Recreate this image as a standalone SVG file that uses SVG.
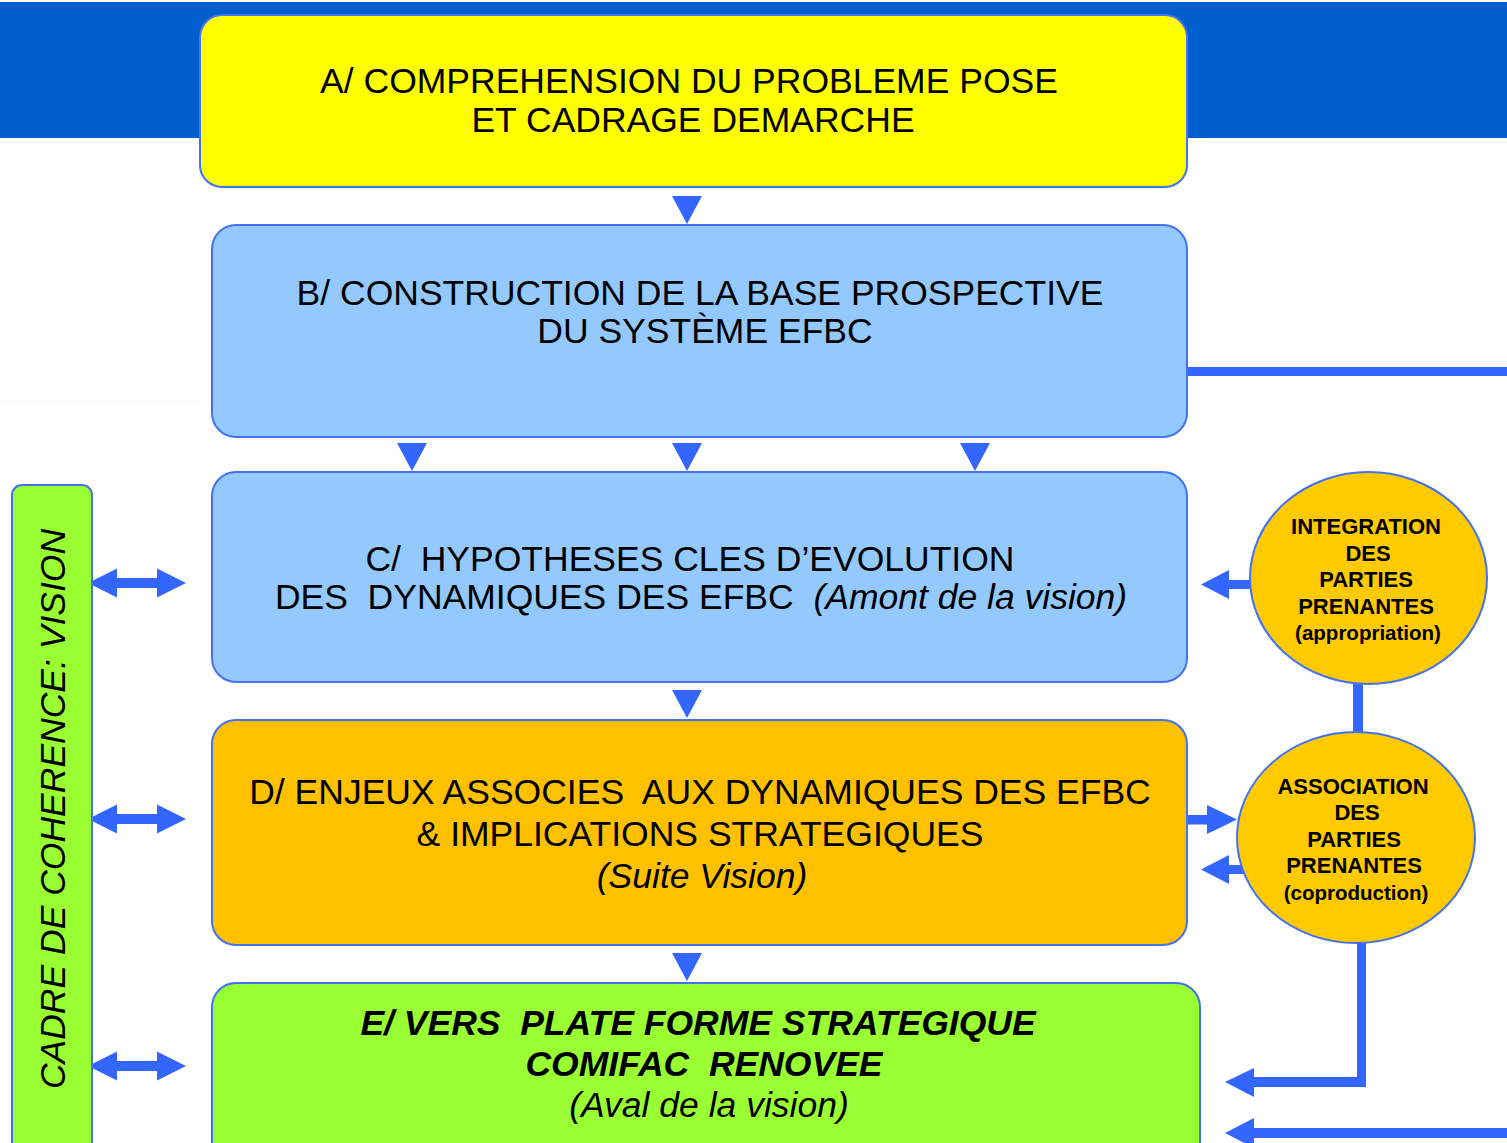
<svg xmlns="http://www.w3.org/2000/svg" width="1507" height="1143" viewBox="0 0 1507 1143">
<style>
  text { font-family: "Liberation Sans", Arial, sans-serif; fill: #000; }
  .box { stroke: #4472F0; stroke-width: 2; }
  .big { font-size: 35.5px; text-anchor: middle; }
  .it { font-style: italic; }
  .bi { font-style: italic; font-weight: bold; }
  .circ { font-size: 22px; font-weight: bold; text-anchor: middle; }
  .paren { font-size: 20.5px; }
  .arr { fill: #3366FF; }
</style>
<rect width="1507" height="1143" fill="#FFFFFF"/>
<rect x="0" y="2" width="1507" height="136" fill="#005ECE"/>
<line x1="0" y1="401" x2="200" y2="401" stroke="#F3F3EA" stroke-width="1"/>

<g id="connectors">
  <!-- down triangles -->
  <polygon class="arr" points="672,196 702,196 687,224"/>
  <polygon class="arr" points="397,443 427,443 412,471"/>
  <polygon class="arr" points="672,443 702,443 687,471"/>
  <polygon class="arr" points="960,443 990,443 975,471"/>
  <polygon class="arr" points="672,690 702,690 687,718"/>
  <polygon class="arr" points="672,953 702,953 687,981"/>
  <!-- left double arrows -->
  <polygon class="arr" points="88,583 117,568.5 117,578 157,578 157,568.5 186,583 157,597.5 157,588 117,588 117,597.5"/>
  <polygon class="arr" points="88,819 117,804.5 117,814 157,814 157,804.5 186,819 157,833.5 157,824 117,824 117,833.5"/>
  <polygon class="arr" points="88,1066 117,1051.5 117,1061 157,1061 157,1051.5 186,1066 157,1080.5 157,1071 117,1071 117,1080.5"/>
  <!-- line from B to right -->
  <rect class="arr" x="1187" y="367" width="320" height="9"/>
  <!-- circle1 to C -->
  <rect class="arr" x="1228" y="580" width="26" height="9"/>
  <polygon class="arr" points="1201,584.5 1229,570 1229,599"/>
  <!-- circle1 to circle2 -->
  <rect class="arr" x="1353" y="680" width="10" height="56"/>
  <!-- D to circle2 -->
  <rect class="arr" x="1187" y="815" width="21" height="9.5"/>
  <polygon class="arr" points="1207,805 1237,819.5 1207,834"/>
  <!-- circle2 to D -->
  <rect class="arr" x="1228" y="865" width="16" height="9"/>
  <polygon class="arr" points="1201,869.5 1229,855 1229,884"/>
  <!-- circle2 to E -->
  <rect class="arr" x="1357" y="940" width="9" height="147"/>
  <rect class="arr" x="1253" y="1077" width="113" height="10"/>
  <polygon class="arr" points="1225,1082 1254,1068 1254,1097"/>
  <!-- external to E -->
  <rect class="arr" x="1253" y="1128" width="254" height="10"/>
  <polygon class="arr" points="1225,1133 1254,1118 1254,1148"/>
</g>

<g id="nodeA">
  <rect class="box" x="200" y="15" width="987" height="172" rx="22" fill="#FFFF00"/>
  <text class="big" x="689" y="93">A/ COMPREHENSION DU PROBLEME POSE</text>
  <text class="big" x="693" y="132">ET CADRAGE DEMARCHE</text>
</g>

<g id="nodeB">
  <rect class="box" x="212" y="225" width="975" height="212" rx="24" fill="#94C9FF"/>
  <text class="big" x="700" y="305">B/ CONSTRUCTION DE LA BASE PROSPECTIVE</text>
  <text class="big" x="705" y="343">DU SYSTÈME EFBC</text>
</g>

<g id="nodeC">
  <rect class="box" x="212" y="472" width="975" height="210" rx="24" fill="#94C9FF"/>
  <text class="big" x="690" y="571" xml:space="preserve">C/  HYPOTHESES CLES D’EVOLUTION</text>
  <text class="big" x="701" y="609" xml:space="preserve">DES  DYNAMIQUES DES EFBC  <tspan class="it">(Amont de la vision)</tspan></text>
</g>

<g id="nodeD">
  <rect class="box" x="212" y="720" width="975" height="225" rx="24" fill="#FFC000"/>
  <text class="big" x="700" y="804" xml:space="preserve">D/ ENJEUX ASSOCIES  AUX DYNAMIQUES DES EFBC</text>
  <text class="big" x="700" y="846">&amp; IMPLICATIONS STRATEGIQUES</text>
  <text class="big it" x="702" y="888">(Suite Vision)</text>
</g>

<g id="nodeE">
  <rect class="box" x="212" y="983" width="988" height="190" rx="24" fill="#99FF33"/>
  <text class="big bi" x="698" y="1035" xml:space="preserve">E/ VERS  PLATE FORME STRATEGIQUE</text>
  <text class="big bi" x="704" y="1076" xml:space="preserve">COMIFAC  RENOVEE</text>
  <text class="big it" x="709" y="1117">(Aval de la vision)</text>
</g>

<g id="nodeVision">
  <rect class="box" x="12" y="485" width="80" height="690" rx="10" fill="#99FF33"/>
  <text class="big it" transform="translate(65,809) rotate(-90)" x="0" y="0">CADRE DE COHERENCE: VISION</text>
</g>

<g id="nodeIntegration">
  <ellipse class="box" cx="1368.5" cy="578" rx="118.5" ry="106" fill="#FFCB00"/>
  <text class="circ" x="1366" y="534">INTEGRATION</text>
  <text class="circ" x="1368" y="561">DES</text>
  <text class="circ" x="1366" y="587">PARTIES</text>
  <text class="circ" x="1366" y="614">PRENANTES</text>
  <text class="circ paren" x="1368" y="640">(appropriation)</text>
</g>

<g id="nodeAssociation">
  <ellipse class="box" cx="1356" cy="837.5" rx="119" ry="105.5" fill="#FFCB00"/>
  <text class="circ" x="1353" y="794">ASSOCIATION</text>
  <text class="circ" x="1357" y="820">DES</text>
  <text class="circ" x="1354" y="847">PARTIES</text>
  <text class="circ" x="1354" y="873">PRENANTES</text>
  <text class="circ paren" x="1356" y="900">(coproduction)</text>
</g>
</svg>
